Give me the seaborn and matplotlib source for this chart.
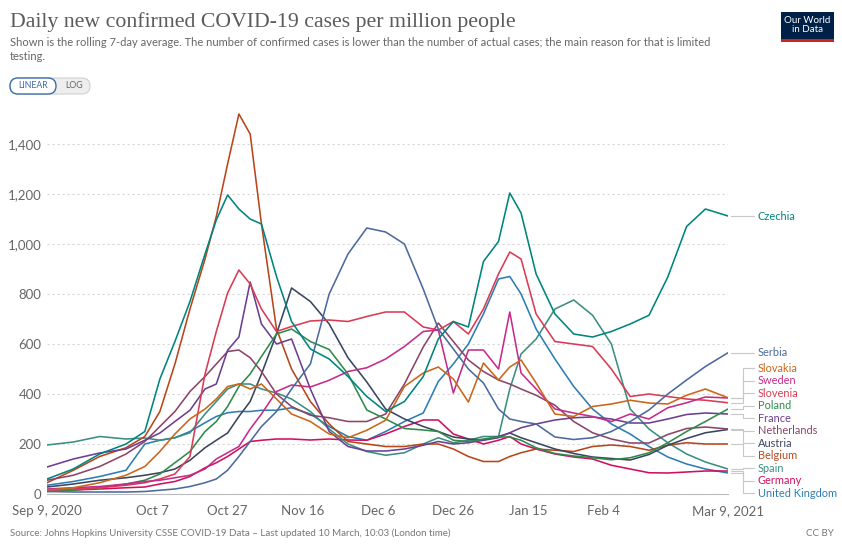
import matplotlib
matplotlib.use("Agg")
import matplotlib.pyplot as plt
import matplotlib.transforms as mtransforms
from matplotlib.patches import FancyBboxPatch, Rectangle
import pandas as pd
import seaborn as sns

start = pd.Timestamp("2020-09-09")
day_offsets = [0, 7, 14, 21, 26, 30, 34, 38, 42, 45,
               48, 51, 54, 57, 61, 65, 70, 75, 80, 85,
               90, 95, 100, 104, 108, 112, 116, 120, 123, 126,
               130, 135, 140, 145, 150, 155, 160, 165, 170, 175,
               181]

czechia = [60, 100, 160, 200, 250, 460, 610, 770, 960, 1096,
           1196, 1140, 1100, 1080, 870, 690, 580, 540, 470, 390,
           330, 370, 470, 620, 690, 668, 930, 1010, 1204, 1124,
           880, 720, 640, 628, 650, 680, 715, 868, 1070, 1140,
           1112]
serbia = [10, 8, 8, 8, 10, 15, 20, 30, 45, 60,
          95, 150, 210, 270, 330, 420, 520, 800, 960, 1064,
          1048, 1000, 820, 660, 580, 500, 444, 340, 300, 290,
          280, 228, 218, 225, 250, 290, 336, 400, 456, 510,
          565]
slovakia = [15, 25, 45, 75, 110, 170, 240, 300, 340, 380,
            430, 440, 420, 440, 380, 320, 290, 240, 225, 255,
            295, 430, 484, 508, 460, 368, 524, 456, 508, 536,
            444, 320, 310, 350, 360, 375, 364, 360, 395, 420,
            385]
sweden = [20, 25, 30, 40, 50, 55, 65, 75, 100, 140,
          165, 190, 260, 320, 410, 436, 428, 455, 490, 505,
          540, 590, 650, 656, 404, 576, 576, 500, 728, 484,
          420, 340, 324, 310, 290, 320, 300, 345, 365, 388,
          384]
slovenia = [15, 20, 25, 35, 45, 60, 80, 150, 480, 650,
            804, 896, 840, 740, 650, 670, 692, 696, 690, 710,
            728, 728, 668, 656, 690, 640, 740, 880, 968, 940,
            720, 610, 600, 590, 500, 390, 400, 390, 380, 375,
            365]
poland = [10, 15, 25, 40, 55, 80, 125, 170, 250, 290,
          350, 430, 480, 550, 640, 660, 610, 578, 480, 336,
          300, 262, 256, 250, 215, 210, 220, 228, 228, 215,
          185, 162, 152, 145, 137, 145, 165, 205, 250, 290,
          340]
france = [108, 140, 164, 180, 215, 244, 290, 335, 420, 440,
          575, 628, 848, 680, 600, 620, 420, 250, 190, 172,
          172, 180, 195, 210, 200, 205, 215, 225, 245, 265,
          280, 296, 305, 308, 300, 284, 284, 300, 318, 324,
          320]
netherlands = [55, 75, 110, 160, 210, 270, 330, 410, 470, 520,
               570, 576, 545, 490, 400, 350, 315, 305, 290, 290,
               320, 440, 588, 684, 610, 536, 490, 456, 440, 420,
               395, 355, 290, 245, 220, 204, 204, 238, 262, 268,
               260]
austria = [28, 40, 55, 65, 75, 85, 100, 135, 185, 215,
           244, 310, 370, 480, 640, 824, 770, 680, 545, 448,
           340, 300, 270, 250, 228, 220, 216, 230, 244, 225,
           205, 180, 162, 148, 142, 136, 158, 195, 222, 245,
           258]
belgium = [45, 95, 150, 185, 230, 330, 520, 740, 940, 1110,
           1320, 1520, 1440, 1080, 660, 500, 370, 280, 210, 200,
           190, 190, 200, 200, 180, 150, 130, 130, 150, 165,
           180, 175, 170, 190, 196, 190, 175, 195, 205, 200,
           200]
spain = [196, 208, 230, 220, 224, 215, 225, 245, 320, 370,
         420, 440, 440, 420, 404, 380, 330, 260, 200, 170,
         155, 165, 200, 225, 205, 215, 230, 230, 420, 560,
         620, 740, 776, 715, 600, 340, 260, 205, 160, 128,
         100]
germany = [15, 16, 20, 25, 28, 40, 50, 70, 105, 125,
           150, 180, 210, 215, 220, 220, 216, 220, 216, 215,
           240, 270, 296, 296, 240, 220, 200, 215, 230, 200,
           180, 160, 148, 140, 115, 100, 85, 84, 88, 92,
           92]
united_kingdom = [35, 50, 70, 95, 200, 215, 225, 250, 285, 310,
                  325, 330, 330, 335, 335, 345, 320, 270, 230, 215,
                  250, 290, 324, 450, 520, 600, 720, 860, 870, 800,
                  660, 540, 430, 340, 280, 240, 190, 148, 120, 100,
                  84]

countries = ["Czechia", "Serbia", "Slovakia", "Sweden", "Slovenia", "Poland", "France",
             "Netherlands", "Austria", "Belgium", "Spain", "Germany", "United Kingdom"]
series = [czechia, serbia, slovakia, sweden, slovenia, poland, france,
          netherlands, austria, belgium, spain, germany, united_kingdom]
colors = {
    "Czechia": "#00847E", "Serbia": "#4C6A9C", "Slovakia": "#C9661A",
    "Sweden": "#C42C8A", "Slovenia": "#D93B55", "Poland": "#2E8B4A",
    "France": "#6D3E91", "Netherlands": "#8C4569", "Austria": "#3A4660",
    "Belgium": "#B8461A", "Spain": "#3A8F80", "Germany": "#D0105E",
    "United Kingdom": "#2D7DB3",
}

tick_dates = ["2020-09-09", "2020-10-07", "2020-10-27", "2020-11-16", "2020-12-06",
              "2020-12-26", "2021-01-15", "2021-02-04", "2021-03-09"]
tick_labels = ["Sep 9, 2020", "Oct 7", "Oct 27", "Nov 16", "Dec 6",
               "Dec 26", "Jan 15", "Feb 4", "Mar 9, 2021"]
y_ticks = [0, 200, 400, 600, 800, 1000, 1200, 1400]

dates = start + pd.to_timedelta(day_offsets, unit="D")
df = pd.concat([pd.DataFrame({"date": dates, "country": c, "cases": v})
                for c, v in zip(countries, series)], ignore_index=True)

sns.set_theme(style="white")
plt.rcParams["font.family"] = ["Lato", "DejaVu Sans"]

fig = plt.figure(figsize=(8.42, 5.45), dpi=100)
ax = fig.add_axes([47 / 842, 51 / 545, 681 / 842, 389 / 545])

sns.lineplot(data=df, x="date", y="cases", hue="country", hue_order=countries[::-1],
             palette=colors, linewidth=1.15, legend=False, estimator=None, ax=ax)

ax.set_xlim(start, start + pd.Timedelta(days=181))
ax.set_ylim(0, 1556)
ax.set_xlabel("")
ax.set_ylabel("")
ax.set_yticks(y_ticks)
ax.set_yticklabels([f"{v:,}" for v in y_ticks])
ax.set_xticks(pd.to_datetime(tick_dates))
ax.set_xticklabels(tick_labels)
ax.tick_params(axis="y", length=0, pad=4, labelsize=9.5, labelcolor="#666666")
ax.tick_params(axis="x", length=5, width=0.8, color="#bbbbbb", pad=3,
               labelsize=9.5, labelcolor="#666666")
ax.grid(axis="y", color="#d6d6d6", linestyle=(0, (2, 2.5)), linewidth=0.8)
ax.grid(axis="x", visible=False)
ax.set_axisbelow(True)
sns.despine(ax=ax, left=True)
ax.spines["bottom"].set_color("#bbbbbb")
ax.spines["bottom"].set_linewidth(0.8)

# end-of-line labels, spread apart so they do not overlap
gap = 50
pos = {c: v[-1] for c, v in zip(countries, series)}
for _ in range(500):
    order = sorted(pos, key=pos.get, reverse=True)
    moved = False
    for a, b in zip(order, order[1:]):
        d = pos[a] - pos[b]
        if d < gap - 1e-6:
            shift = (gap - d) / 2
            pos[a] += shift
            pos[b] -= shift
            moved = True
    if not moved:
        break

blend = mtransforms.blended_transform_factory(ax.transAxes, ax.transData)
for c, v in zip(countries, series):
    ax.plot([1.004, 1.022, 1.022, 1.038], [v[-1], v[-1], pos[c], pos[c]],
            transform=blend, color="#c8c8c8", lw=0.8, clip_on=False)
    ax.text(1.044, pos[c], c, transform=blend, color=colors[c], fontsize=7.9,
            va="center", ha="left")

# header
fig.text(10 / 842, 1 - 22 / 545, "Daily new confirmed COVID-19 cases per million people",
         fontsize=15.7, family="Liberation Serif", color="#5b5b5b", va="center")
fig.text(10 / 842, 1 - 42 / 545,
         "Shown is the rolling 7-day average. The number of confirmed cases is lower than "
         "the number of actual cases; the main reason for that is limited",
         fontsize=8.05, color="#666666", va="center")
fig.text(10 / 842, 1 - 56 / 545, "testing.", fontsize=8.05, color="#666666", va="center")

ident = mtransforms.IdentityTransform()
fig.patches.append(FancyBboxPatch((10, 545 - 94), 80, 16, boxstyle="round,pad=0,rounding_size=8",
                                  transform=ident, facecolor="#eeeeee", edgecolor="#d0d0d0", lw=0.8))
fig.patches.append(FancyBboxPatch((10, 545 - 94), 46, 16, boxstyle="round,pad=0,rounding_size=8",
                                  transform=ident, facecolor="white", edgecolor="#3a6ea8", lw=1.0))
fig.text(33 / 842, 1 - 86 / 545, "LINEAR", fontsize=6.3, color="#3a6ea8", ha="center", va="center")
fig.text(74 / 842, 1 - 86 / 545, "LOG", fontsize=6.3, color="#666666", ha="center", va="center")

# logo
fig.patches.append(Rectangle((781, 545 - 42), 53, 30, transform=ident, facecolor="#002147", lw=0))
fig.patches.append(Rectangle((781, 545 - 42), 53, 3, transform=ident, facecolor="#ce261e", lw=0))
fig.text(807.5 / 842, 1 - 25 / 545, "Our World\nin Data", fontsize=7, color="white",
         ha="center", va="center", linespacing=1.0)

# footer
fig.text(10 / 842, 1 - 533 / 545,
         "Source: Johns Hopkins University CSSE COVID-19 Data \u2013 Last updated 10 March, 10:03 (London time)",
         fontsize=7.0, color="#777777", va="center")
fig.text(834 / 842, 1 - 533 / 545, "CC BY", fontsize=7.0, color="#777777", va="center", ha="right")

fig.savefig("out.png", dpi=100)
